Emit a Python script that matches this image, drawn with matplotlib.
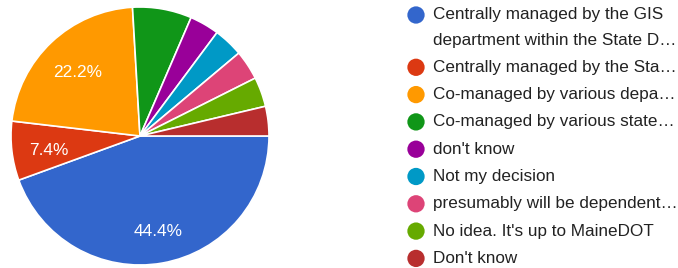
import matplotlib
matplotlib.use("Agg")
import matplotlib.pyplot as plt

plt.rcParams['font.family'] = ['Liberation Sans', 'DejaVu Sans']

labels = [
    "Centrally managed by the GIS\ndepartment within the State D…",
    "Centrally managed by the Sta…",
    "Co-managed by various depa…",
    "Co-managed by various state…",
    "don't know",
    "Not my decision",
    "presumably will be dependent…",
    "No idea. It's up to MaineDOT",
    "Don't know",
]
counts = [12, 2, 6, 2, 1, 1, 1, 1, 1]
colors = ["#3366cc", "#dc3912", "#ff9900", "#109618", "#990099",
          "#0099c6", "#dd4477", "#66aa00", "#b82e2e"]
labelled = [True, True, True, False, False, False, False, False, False]

W, H = 678, 268
fig = plt.figure(figsize=(W / 100, H / 100), dpi=100)

cx, cy, r = 140, 136, 129
ax = fig.add_axes([(cx - r) / W, (H - cy - r) / H, 2 * r / W, 2 * r / H])

def fmt(p):
    return f"{p:.1f}%"

wedges, texts, autotexts = ax.pie(
    counts, colors=colors, startangle=0, counterclock=False,
    autopct=fmt, pctdistance=0.72,
    wedgeprops=dict(edgecolor="white", linewidth=1.2),
    textprops=dict(color="white", fontsize=12.4),
    radius=1,
)
for t, show in zip(autotexts, labelled):
    t.set_visible(show)
    x0, y0 = t.get_position()
    t.set_position((x0 + 1.5 / r, y0 - 4 / r))
ax.set_xlim(-1, 1)
ax.set_ylim(-1, 1)
ax.set_aspect('equal')
ax.axis('off')

# legend
lax = fig.add_axes([0, 0, 1, 1])
lax.set_xlim(0, W)
lax.set_ylim(H, 0)
lax.axis('off')
y = 15
step = 27.3
for lab, col in zip(labels, colors):
    lax.scatter([416], [y], s=155, color=col, edgecolors='none')
    lines = lab.split('\n')
    for i, line in enumerate(lines):
        lax.text(433, y + i * 25, line, fontsize=12.3, color="#222222",
                 va='center')
    y += step + (len(lines) - 1) * 25

fig.savefig("out.png", dpi=100)
